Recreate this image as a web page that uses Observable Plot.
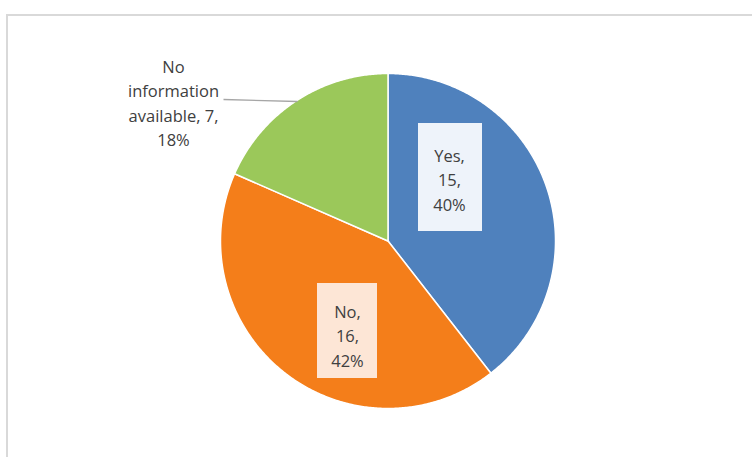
<!DOCTYPE html>
<html>
<head>
<meta charset="utf-8">
<script src="https://cdn.jsdelivr.net/npm/d3@7"></script>
<script src="https://cdn.jsdelivr.net/npm/@observablehq/plot@0.6"></script>
<style>
  html, body { margin: 0; padding: 0; background: #fff; }
  #wrap { position: relative; width: 752px; height: 457px; overflow: hidden; }
  #frame { position: absolute; left: 6px; top: 14px; width: 800px; height: 500px; border: 2px solid #D9D9D9; box-sizing: border-box; }
  #chart { position: absolute; left: 0; top: 0; }
</style>
</head>
<body>
<div id="wrap"><div id="frame"></div><div id="chart"></div></div>
<script>
// ---- data ----
const categories = ["Yes", "No", "No information available"];
const counts = [15, 16, 7];
const percents = ["40%", "42%", "18%"];
const colors = ["#4F81BD", "#F47E1A", "#9BC85A"];
const labelLines = [["Yes,", "15,", "40%"], ["No,", "16,", "42%"], ["No", "information", "available, 7,", "18%"]];

// ---- layout (pixels) ----
const W = 752, H = 457;
const cx = 387.5, cy = 240.5, R = 167.5;
const labelPos = [[449, 178], [347, 334], [173, 101]];
const labelBoxes = [[418, 482, 123, 231], [317, 377, 283, 378], null];
const boxFills = ["#EEF3FA", "#FDE6D6", null];
const leader = [223, 99, 297, 101];

// convert pixel layout to unit (radius) coordinates, y up
const ux = px => (px - cx) / R;
const uy = py => (cy - py) / R;

// slices from d3.pie (clockwise from 12 o'clock)
const arcs = d3.pie().sort(null).startAngle(0).endAngle(2 * Math.PI)(counts);
const slicePts = [];
arcs.forEach((a, i) => {
  slicePts.push({slice: categories[i], x: 0, y: 0});
  const n = Math.max(2, Math.ceil((a.endAngle - a.startAngle) / (Math.PI / 360)));
  for (let k = 0; k <= n; k++) {
    const t = a.startAngle + (a.endAngle - a.startAngle) * k / n;
    slicePts.push({slice: categories[i], x: Math.sin(t), y: Math.cos(t)});
  }
});

const labels = categories.map((c, i) => ({
  slice: c,
  text: labelLines[i].join("\n"),
  x: ux(labelPos[i][0]),
  y: uy(labelPos[i][1])
}));
const boxes = categories.map((c, i) => labelBoxes[i] ? ({
  slice: c, fill: boxFills[i],
  x1: ux(labelBoxes[i][0]), x2: ux(labelBoxes[i][1]),
  y1: uy(labelBoxes[i][2]), y2: uy(labelBoxes[i][3])
}) : null).filter(d => d);

const plot = Plot.plot({
  width: W,
  height: H,
  margin: 0,
  x: {domain: [ux(0), ux(W)], range: [0, W], axis: null},
  y: {domain: [uy(H), uy(0)], range: [H, 0], axis: null},
  color: {domain: categories, range: colors},
  style: {fontFamily: "'Open Sans', sans-serif", background: "transparent"},
  marks: [
    Plot.line(slicePts, {x: "x", y: "y", z: "slice", fill: "slice", stroke: "#ffffff", strokeWidth: 1.5, curve: "linear-closed"}),
    Plot.rect(boxes, {x1: "x1", x2: "x2", y1: "y1", y2: "y2", fill: d => d.fill}),
    Plot.link([leader], {x1: d => ux(d[0]), y1: d => uy(d[1]), x2: d => ux(d[2]), y2: d => uy(d[3]), stroke: "#A6A6A6", strokeWidth: 1.3}),
    Plot.text(labels, {x: "x", y: "y", text: "text", fontSize: 16.5, lineHeight: 24.5 / 16.5, fill: "#404040", textAnchor: "middle"})
  ]
});
document.getElementById("chart").appendChild(plot);
</script>
</body>
</html>
